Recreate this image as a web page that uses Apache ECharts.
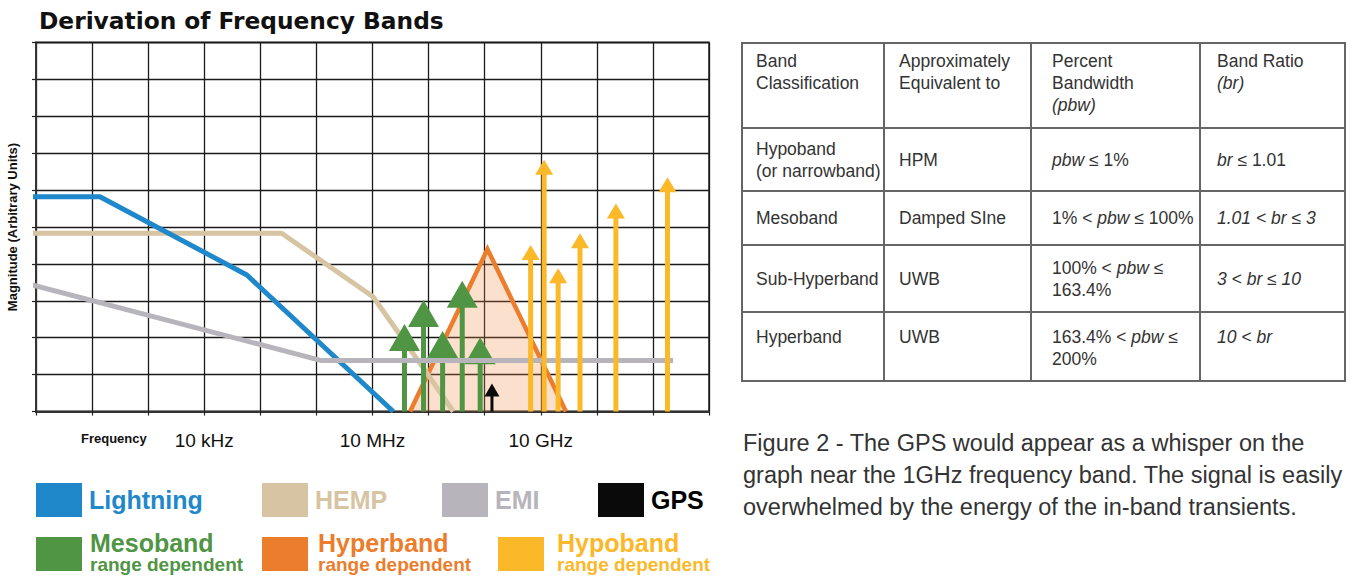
<!DOCTYPE html>
<html>
<head>
<meta charset="utf-8">
<script src="https://cdn.jsdelivr.net/npm/echarts@6/dist/echarts.min.js"></script>
<style>
  html, body { margin:0; padding:0; background:#fff; }
  #chart { position:absolute; left:0; top:0; width:1354px; height:576px; }
  #tbl { position:absolute; left:741px; top:42px; border-collapse:collapse; font-family:"Liberation Sans", Arial, sans-serif; font-size:17.5px; color:#333; }
  #tbl td { border:2px solid #666; padding:0; line-height:22px; vertical-align:middle; }
  #caption { position:absolute; left:743px; top:427px; font-family:"Liberation Sans", Arial, sans-serif; font-size:23.5px; line-height:32px; color:#333; white-space:nowrap; }
</style>
</head>
<body>
<div id="chart"></div>
<table id="tbl"></table>
<div id="caption"></div>
<script>
// ---- chart data (x = log10 of frequency in Hz, y = magnitude, arbitrary units) ----
const tickValues = [4, 7, 10];
const tickLabels = ['10 kHz', '10 MHz', '10 GHz'];

const lightningPts = [[0.93, 5.82], [2.14, 5.82], [4.76, 3.70], [7.37, 0]];
const hempPts      = [[0.93, 4.83], [5.38, 4.83], [7.01, 3.11], [7.97, 1.04], [8.44, 0]];
const emiPts       = [[0.93, 3.43], [6.09, 1.38], [12.36, 1.38]];
const hyperPts     = [[7.67, 0], [9.05, 4.40], [10.45, 0]];

const mesoFreq  = [7.57, 7.91, 8.25, 8.60, 8.92];
const mesoPeak  = [2.37, 3.02, 2.18, 3.54, 2.01];
const hypoFreq  = [9.82, 10.06, 10.31, 10.70, 11.34, 12.26];
const hypoPeak  = [4.51, 6.82, 3.88, 4.83, 5.64, 6.35];
const gpsFreq   = [9.13];
const gpsPeak   = [0.76];

// ---- table + caption text ----
const tableHeader = ['Band<br>Classification', 'Approximately<br>Equivalent to', 'Percent<br>Bandwidth<br><i>(pbw)</i>', 'Band Ratio<br><i>(br)</i>'];
const bandNames   = ['Hypoband<br>(or narrowband)', 'Mesoband', 'Sub-Hyperband', 'Hyperband'];
const equivalents = ['HPM', 'Damped SIne', 'UWB', 'UWB'];
const pbwRanges   = ['<i>pbw</i> ≤ 1%', '1% &lt; <i>pbw</i> ≤ 100%', '100% &lt; <i>pbw</i> ≤<br>163.4%', '163.4% &lt; <i>pbw</i> ≤<br>200%'];
const brRanges    = ['<i>br</i> ≤ 1.01', '<i>1.01 &lt; br ≤ 3</i>', '<i>3 &lt; br ≤ 10</i>', '<i>10 &lt; br</i>'];
const captionLines = ['Figure 2 - The GPS would appear as a whisper on the',
                      'graph near the 1GHz frequency band. The signal is easily',
                      'overwhelmed by the energy of the in-band transients.'];
const subLegendText = 'range dependent';

// build table
(function () {
  const colW = [144, 149, 171, 147];
  const padL = [13, 14, 20, 16];
  const rowH = [85, 63, 54, 67, 69];
  const rows = [tableHeader];
  for (let i = 0; i < bandNames.length; i++) rows.push([bandNames[i], equivalents[i], pbwRanges[i], brRanges[i]]);
  let html = '';
  rows.forEach((r, ri) => {
    html += '<tr style="height:' + rowH[ri] + 'px">';
    r.forEach((c, ci) => {
      let st = 'width:' + (colW[ci] - 2) + 'px;padding-left:' + padL[ci] + 'px;box-sizing:border-box;white-space:nowrap;';
      if (ri === 0) st += 'vertical-align:top;padding-top:6px;';
      if (ri === 4) st += 'vertical-align:top;padding-top:13px;';
      html += '<td style="' + st + '">' + c + '</td>';
    });
    html += '</tr>';
  });
  document.getElementById('tbl').innerHTML = html;
  document.getElementById('caption').innerHTML = captionLines.join('<br>');
})();

const C = {
  lightning: '#1f88cb', hemp: '#d6c4a2', emi: '#b7b5bb', gps: '#0a0a0a',
  meso: '#4f9544', hyper: '#ec7d2c', hypo: '#fbb829'
};

function zip(xs, ys) { return xs.map((x, i) => [x, ys[i]]); }

function arrowSeries(name, color, data, shaftW, headW, headH, z) {
  return {
    type: 'custom', name: name, z: z, color: color, itemStyle: { color: color },
    clip: false, silent: true,
    data: data, encode: { x: 0, y: 1 },
    renderItem: function (params, api) {
      const tip = api.coord([api.value(0), api.value(1)]);
      const base = api.coord([api.value(0), 0]);
      return {
        type: 'group', children: [
          { type: 'line', shape: { x1: tip[0], y1: base[1], x2: tip[0], y2: tip[1] + headH - 1 },
            style: { stroke: color, lineWidth: shaftW } },
          { type: 'polygon', shape: { points: [[tip[0], tip[1]], [tip[0] - headW / 2, tip[1] + headH], [tip[0] + headW / 2, tip[1] + headH]] },
            style: { fill: color } }
        ]
      };
    }
  };
}

function lineSeries(name, color, data, z, extra) {
  return Object.assign({
    type: 'line', name: name, z: z, color: color, data: data, symbol: 'none', clip: false, silent: true,
    itemStyle: { color: color },
    lineStyle: { color: color, width: 5, cap: 'butt', join: 'round' }
  }, extra || {});
}

const chart = echarts.init(document.getElementById('chart'), null, { renderer: 'svg', width: 1354, height: 576 });

const legendFont = 'Liberation Sans, Arial, sans-serif';
const legendBase = { orient: 'horizontal', icon: 'rect', itemWidth: 46, itemHeight: 34, padding: 0, selectedMode: false,
  itemStyle: { borderWidth: 0 } };
function legend1(name, left, color) {
  return Object.assign({}, legendBase, { data: [name], left: left, top: 483,
    textStyle: { color: color, fontSize: 25, fontWeight: 'bold', fontFamily: legendFont, padding: [0, 0, 0, 2] } });
}
// second-row legends: the swatch comes from the legend, its two-line label is drawn as text next to it
function legend2(name, left) {
  return Object.assign({}, legendBase, { data: [name], left: left, top: 537, formatter: function () { return ''; } });
}
function legend2Labels(name, left, color) {
  return [
    { type: 'text', left: left, top: 530, silent: true,
      style: { text: name, fontSize: 25, fontWeight: 'bold', fill: color, fontFamily: legendFont } },
    { type: 'text', left: left, top: 555, silent: true,
      style: { text: subLegendText, fontSize: 19, fontWeight: 'bold', fill: color, fontFamily: legendFont } }
  ];
}

chart.setOption({
  animation: false,
  title: { text: 'Derivation of Frequency Bands', left: 34, top: 4,
    textStyle: { fontFamily: 'DejaVu Sans', fontWeight: 'bold', fontSize: 23.3, color: '#111' } },
  grid: { left: 36, top: 42.5, width: 673, height: 369, show: true, borderColor: '#555', borderWidth: 2, backgroundColor: 'transparent' },
  xAxis: {
    type: 'value', min: 1, max: 13, interval: 1,
    axisLine: { show: true, lineStyle: { color: '#333', width: 2 } },
    axisTick: { show: true, length: 4, lineStyle: { color: '#222', width: 1.2 } },
    splitLine: { show: true, lineStyle: { color: '#1a1a1a', width: 1.3 } },
    axisLabel: { margin: 19, color: '#111', fontSize: 19, fontFamily: 'Liberation Sans, Arial, sans-serif',
      formatter: function (v) { const i = tickValues.indexOf(v); return i >= 0 ? tickLabels[i] : ''; } }
  },
  yAxis: {
    type: 'value', min: 0, max: 10, interval: 1,
    name: 'Magnitude (Arbitrary Units)', nameLocation: 'middle', nameGap: 17,
    nameTextStyle: { fontSize: 13, fontWeight: 'bold', color: '#111', fontFamily: 'Liberation Sans, Arial, sans-serif' },
    axisLine: { show: true, lineStyle: { color: '#333', width: 2 } },
    axisTick: { show: true, length: 4, lineStyle: { color: '#222', width: 1.2 } },
    splitLine: { show: true, lineStyle: { color: '#1a1a1a', width: 1.3 } },
    axisLabel: { show: false }
  },
  graphic: [
    { type: 'text', left: 81, top: 432, style: { text: 'Frequency', fontSize: 13, fontWeight: 'bold', fill: '#111', fontFamily: 'Liberation Sans, Arial, sans-serif' } }
  ].concat(legend2Labels('Mesoband', 90, C.meso), legend2Labels('Hyperband', 318, C.hyper), legend2Labels('Hypoband', 557, C.hypo)),
  legend: [
    legend1('Lightning', 36, C.lightning),
    legend1('HEMP', 262, C.hemp),
    legend1('EMI', 442, C.emi),
    legend1('GPS', 598, '#000'),
    legend2('Mesoband', 36),
    legend2('Hyperband', 262),
    legend2('Hypoband', 498)
  ],
  series: [
    lineSeries('Hyperband', C.hyper, hyperPts, 2, { lineStyle: { color: C.hyper, width: 4.5, join: 'miter' }, areaStyle: { color: 'rgba(240,140,70,0.38)' } }),
    lineSeries('HEMP', C.hemp, hempPts, 3),
    lineSeries('Lightning', C.lightning, lightningPts, 3),
    arrowSeries('Mesoband', C.meso, zip(mesoFreq, mesoPeak), 5, 31, 27, 4),
    lineSeries('EMI', C.emi, emiPts, 5),
    arrowSeries('GPS', C.gps, zip(gpsFreq, gpsPeak), 3, 15, 13, 6),
    arrowSeries('Hypoband', C.hypo, zip(hypoFreq, hypoPeak), 5, 18, 15, 7)
  ]
});
</script>
</body>
</html>
